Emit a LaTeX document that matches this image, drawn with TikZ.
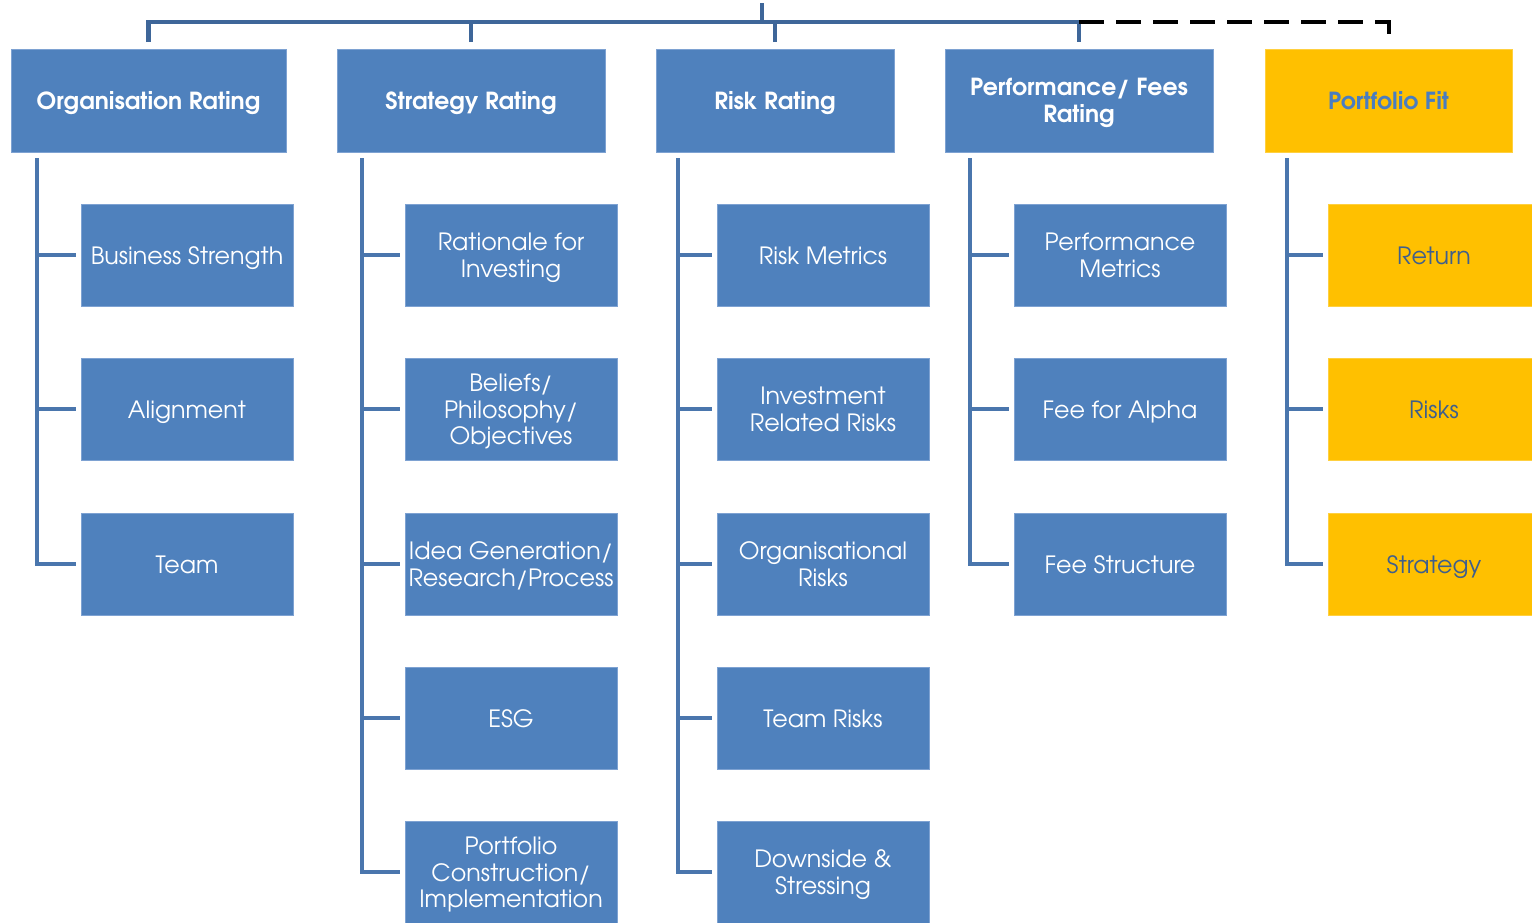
\documentclass[tikz,border=0pt]{standalone}
\usepackage{fontspec}
\setmainfont{TeX Gyre Adventor}
\definecolor{boxblue}{HTML}{4F81BD}
\definecolor{boxedge}{HTML}{7EA2D2}
\definecolor{lineblue}{HTML}{4A76AD}
\definecolor{topblue}{HTML}{3E6699}
\definecolor{gold}{HTML}{FFC000}
\definecolor{goldedge}{HTML}{FFD040}
\definecolor{goldtext}{HTML}{3F5F8C}
\definecolor{pftext}{HTML}{4A7DC0}
\newcommand\capstrut{\rule[-0.3em]{0pt}{1.36em}}
\newcommand\firststrut{\rule{0pt}{1.06em}}
\newcommand\laststrut{\rule[-0.3em]{0pt}{0.3em}}
\begin{document}
\begin{tikzpicture}[x=1pt,y=-1pt,
  hdr/.style={draw=boxedge, line width=0.8pt, fill=boxblue, text=white, anchor=north west,
    inner sep=0pt, outer sep=0pt, minimum height=103pt, align=center,
    font=\bfseries\fontsize{23.5}{27}\selectfont,
    execute at begin node=\capstrut, execute at end node=\capstrut},
  goldhdr/.style={hdr, draw=goldedge, fill=gold, text=pftext},
  child/.style={draw=boxedge, line width=0.8pt, fill=boxblue, text=white, anchor=north west,
    inner sep=0pt, outer sep=0pt, minimum width=212pt, minimum height=102pt, align=center,
    font=\fontsize{23.8}{26.6}\selectfont,
    execute at begin node=\capstrut, execute at end node=\capstrut},
  goldchild/.style={child, draw=goldedge, fill=gold, text=goldtext},
  conn/.style={draw=lineblue, line width=4.5pt},
  topconn/.style={draw=topblue, line width=4.5pt},
  dashline/.style={draw=black, line width=4pt, dash pattern=on 25pt off 12pt}
]
\useasboundingbox (0,0) rectangle (1532,922);
\clip (0,0) rectangle (1532,922);

% headers
\node[hdr, minimum width=275pt] (h1) at (11,49) {Organisation Rating};
\node[hdr, minimum width=268pt] (h2) at (337,49) {Strategy Rating};
\node[hdr, minimum width=238pt] (h3) at (656,49) {Risk Rating};
\node[hdr, minimum width=268pt] (h4) at (945,49) {\firststrut Performance/ Fees\\Rating\laststrut};
\node[goldhdr, minimum width=247pt] (h5) at (1265,49) {Portfolio Fit};

% column 1
\node[child] (c11) at (81,204) {Business Strength};
\node[child] (c12) at (81,358) {Alignment};
\node[child] (c13) at (81,513) {Team};
% column 2
\node[child] (c21) at (405,204) {\firststrut Rationale for\\Investing\laststrut};
\node[child] (c22) at (405,358) {\firststrut Beliefs/\\Philosophy/\\Objectives\laststrut};
\node[child] (c23) at (405,513) {\firststrut Idea Generation/\\Research/Process\laststrut};
\node[child] (c24) at (405,667) {ESG};
\node[child] (c25) at (405,821) {\firststrut Portfolio\\Construction/\\Implementation\laststrut};
% column 3
\node[child] (c31) at (717,204) {Risk Metrics};
\node[child] (c32) at (717,358) {\firststrut Investment\\Related Risks\laststrut};
\node[child] (c33) at (717,513) {\firststrut Organisational\\Risks\laststrut};
\node[child] (c34) at (717,667) {Team Risks};
\node[child] (c35) at (717,821) {\firststrut Downside \&\\Stressing\laststrut};
% column 4
\node[child] (c41) at (1014,204) {\firststrut Performance\\Metrics\laststrut};
\node[child] (c42) at (1014,358) {Fee for Alpha};
\node[child] (c43) at (1014,513) {Fee Structure};
% column 5
\node[goldchild] (c51) at (1328,204) {Return};
\node[goldchild] (c52) at (1328,358) {Risks};
\node[goldchild] (c53) at (1328,513) {Strategy};

% top connectors
\coordinate (root) at (762,3);
\coordinate (bus) at (762,22);
\draw[topconn] (root) -- (bus);
\draw[topconn] ([yshift=7pt]h1.north) -- (h1.north |- bus) -- (h4.north |- bus) -- ([yshift=7pt]h4.north);
\draw[topconn] ([yshift=7pt]h2.north) -- (h2.north |- bus);
\draw[topconn] ([yshift=7pt]h3.north) -- (h3.north |- bus);
\draw[dashline] (h4.north |- bus) -- (h5.north |- bus) -- ([yshift=7pt]h5.north);

% child connectors
\coordinate (v1) at (37,158);
\coordinate (v2) at (362,158);
\coordinate (v3) at (678,158);
\coordinate (v4) at (970,158);
\coordinate (v5) at (1287,158);

\draw[conn] (v1) |- ([xshift=-5pt]c13.west);
\draw[conn] (v1 |- c11.west) -- ([xshift=-5pt]c11.west);
\draw[conn] (v1 |- c12.west) -- ([xshift=-5pt]c12.west);

\draw[conn] (v2) |- ([xshift=-5pt]c25.west);
\draw[conn] (v2 |- c21.west) -- ([xshift=-5pt]c21.west);
\draw[conn] (v2 |- c22.west) -- ([xshift=-5pt]c22.west);
\draw[conn] (v2 |- c23.west) -- ([xshift=-5pt]c23.west);
\draw[conn] (v2 |- c24.west) -- ([xshift=-5pt]c24.west);

\draw[conn] (v3) |- ([xshift=-5pt]c35.west);
\draw[conn] (v3 |- c31.west) -- ([xshift=-5pt]c31.west);
\draw[conn] (v3 |- c32.west) -- ([xshift=-5pt]c32.west);
\draw[conn] (v3 |- c33.west) -- ([xshift=-5pt]c33.west);
\draw[conn] (v3 |- c34.west) -- ([xshift=-5pt]c34.west);

\draw[conn] (v4) |- ([xshift=-5pt]c43.west);
\draw[conn] (v4 |- c41.west) -- ([xshift=-5pt]c41.west);
\draw[conn] (v4 |- c42.west) -- ([xshift=-5pt]c42.west);

\draw[conn] (v5) |- ([xshift=-5pt]c53.west);
\draw[conn] (v5 |- c51.west) -- ([xshift=-5pt]c51.west);
\draw[conn] (v5 |- c52.west) -- ([xshift=-5pt]c52.west);
\end{tikzpicture}
\end{document}
